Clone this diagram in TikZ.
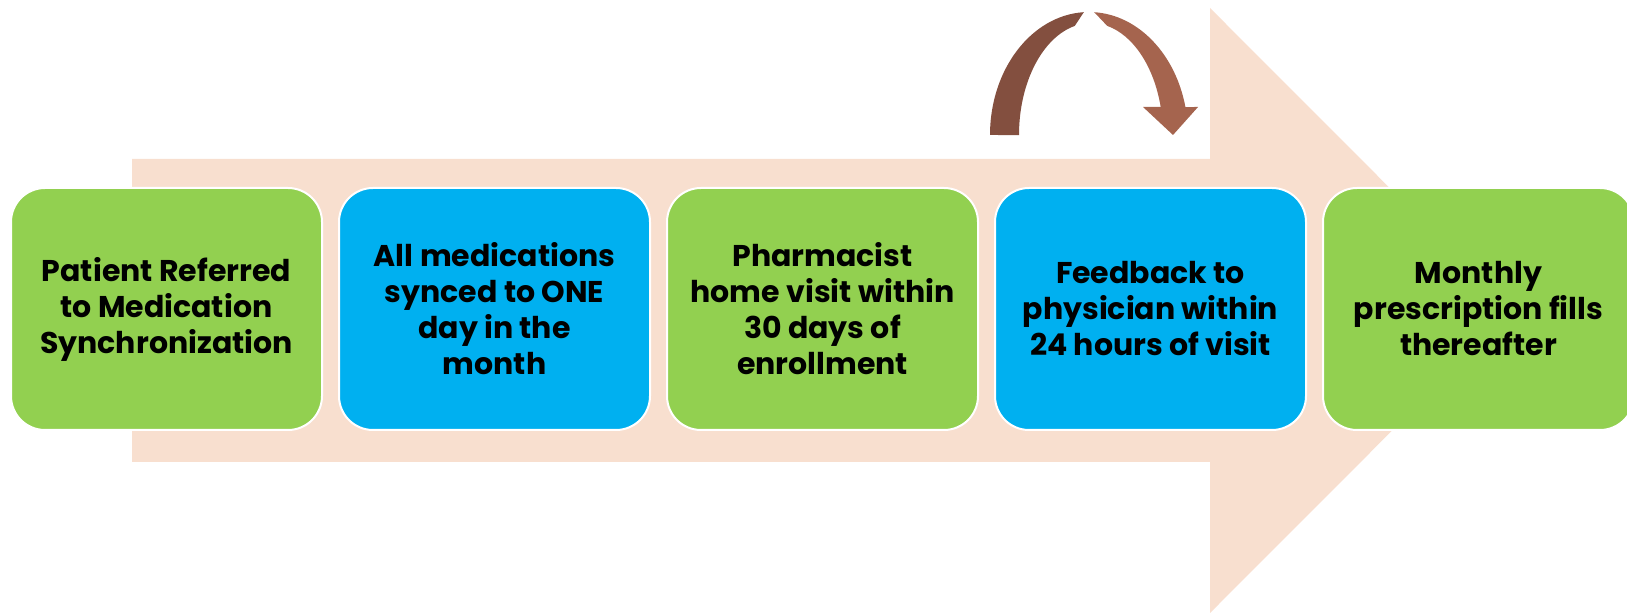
\documentclass[tikz,border=0pt]{standalone}
\usepackage{fontspec}
\setmainfont{Poppins}
\usepackage{tikz}
\definecolor{flowpeach}{HTML}{F8DFCF}
\definecolor{boxgreen}{HTML}{92D050}
\definecolor{boxblue}{HTML}{00B0F0}
\definecolor{loopdark}{HTML}{834F3F}
\definecolor{looplight}{HTML}{A5644E}

\begin{document}
\begin{tikzpicture}[x=0.5pt,y=-0.5pt,
  stage/.style={shape=rectangle, rounded corners=17pt, draw=white, line width=1pt,
    minimum width=155.5pt, minimum height=121pt, inner sep=0pt, align=center,
    font=\fontsize{15}{18}\selectfont\bfseries}]
\useasboundingbox (0,0) rectangle (1627,613);
% big arrow behind the steps
\fill[flowpeach] (132,159) -- (1210,159) -- (1210,8) -- (1512,310.5) -- (1210,613) -- (1210,462) -- (132,462) -- cycle;
% curved arrow, left half
\fill[loopdark] (990,135) arc[start angle=180, end angle=93, x radius=49.5pt, y radius=61.5pt]
  -- (1074.8,25.9) arc[start angle=103, end angle=180, x radius=36pt, y radius=56pt] -- cycle;
% curved arrow, right half with head
\fill[looplight] (1094.2,12.2) arc[start angle=87, end angle=13.16, x radius=49.5pt, y radius=61.5pt]
  -- (1198,107) -- (1173,135) -- (1143,107) -- (1160.7,107)
  arc[start angle=14.48, end angle=77, x radius=36pt, y radius=56pt] -- cycle;
% steps
\node[stage, fill=boxgreen] (A) at (166.5,309) {Patient Referred\\to Medication\\Synchronization};
\node[stage, fill=boxblue] (B) at (494.5,309) {All medications\\synced to ONE\\day in the\\month};
\node[stage, fill=boxgreen] (C) at (822.5,309) {Pharmacist\\home visit within\\30 days of\\enrollment};
\node[stage, fill=boxblue] (D) at (1150.5,309) {Feedback to\\physician within\\24 hours of visit};
\node[stage, fill=boxgreen] (E) at (1478.5,309) {Monthly\\prescription fills\\thereafter};
\end{tikzpicture}
\end{document}
